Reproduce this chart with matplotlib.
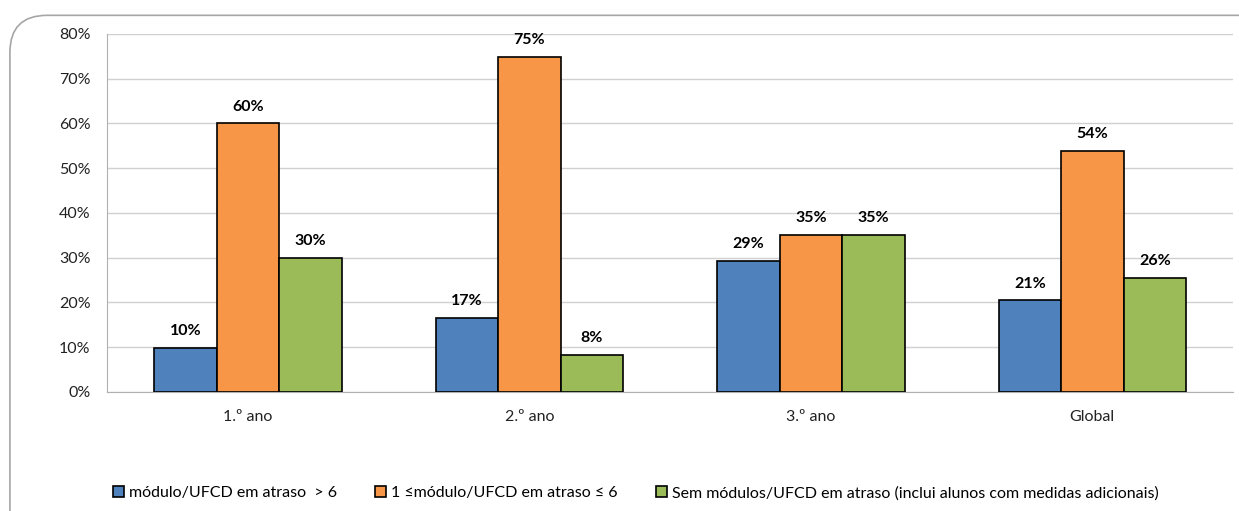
import matplotlib
matplotlib.use("Agg")
import matplotlib.pyplot as plt
import numpy as np
from matplotlib.patches import FancyBboxPatch

plt.rcParams['font.family'] = ['Lato', 'DejaVu Sans']

categories = ['1.º ano', '2.º ano', '3.º ano', 'Global']
series_names = ['módulo/UFCD em atraso  > 6',
                '1 ≤módulo/UFCD em atraso ≤ 6',
                'Sem módulos/UFCD em atraso (inclui alunos com medidas adicionais)']
mais_6 = [9.8, 16.5, 29.3, 20.5]
entre_1_6 = [60.0, 74.9, 35.1, 53.9]
sem_atraso = [29.9, 8.3, 35.1, 25.5]
labels_mais_6 = ['10%', '17%', '29%', '21%']
labels_entre = ['60%', '75%', '35%', '54%']
labels_sem = ['30%', '8%', '35%', '26%']
colors = ['#4F81BD', '#F79646', '#9BBB59']

fig = plt.figure(figsize=(12.39, 5.11), dpi=100)

# rounded outer frame
frame = FancyBboxPatch((0.008, -0.2), 1.2, 1.17,
                       boxstyle="round,pad=0,rounding_size=0.03",
                       transform=fig.transFigure, facecolor='white',
                       edgecolor='#A6A6A6', linewidth=1.2, zorder=-5,
                       mutation_aspect=1239 / 511)
fig.patches.append(frame)

ax = fig.add_axes([0.0864, 0.2329, 0.9088, 0.7006])
ax.set_facecolor('none')
ax.set_zorder(2)

x = np.arange(len(categories))
w = 0.222
all_vals = [mais_6, entre_1_6, sem_atraso]
all_labels = [labels_mais_6, labels_entre, labels_sem]
for i, (vals, labs) in enumerate(zip(all_vals, all_labels)):
    bars = ax.bar(x + (i - 1) * w, vals, width=w, color=colors[i],
                  edgecolor='black', linewidth=1.2, label=series_names[i], zorder=3)
    for b, lab in zip(bars, labs):
        ax.annotate(lab, (b.get_x() + b.get_width() / 2, b.get_height()),
                    xytext=(0, 7), textcoords='offset points',
                    ha='center', va='bottom', fontsize=11.5, fontweight='bold')

ax.set_xlim(-0.5, len(categories) - 0.5)
ax.set_ylim(0, 80)
ax.set_yticks(np.arange(0, 81, 10))
ax.set_yticklabels([f'{v}%' for v in range(0, 81, 10)], fontsize=11.5, color='#222222')
ax.set_xticks(x)
ax.set_xticklabels(categories, fontsize=11.5, color='#222222')
ax.tick_params(axis='both', length=0, pad=12)
ax.tick_params(axis='x', pad=13)
ax.grid(axis='y', color='#D0D0D0', linewidth=1, zorder=0)
for s in ['top', 'right']:
    ax.spines[s].set_visible(False)
ax.spines['left'].set_color('#B0B0B0')
ax.spines['bottom'].set_color('#B0B0B0')

leg = fig.legend(loc='center', bbox_to_anchor=(0.513, 0.035), ncol=3, frameon=False,
                 fontsize=11.5, handlelength=0.7, handleheight=0.7, handletextpad=0.3,
                 columnspacing=2.4)

fig.savefig('out.png', dpi=100)
